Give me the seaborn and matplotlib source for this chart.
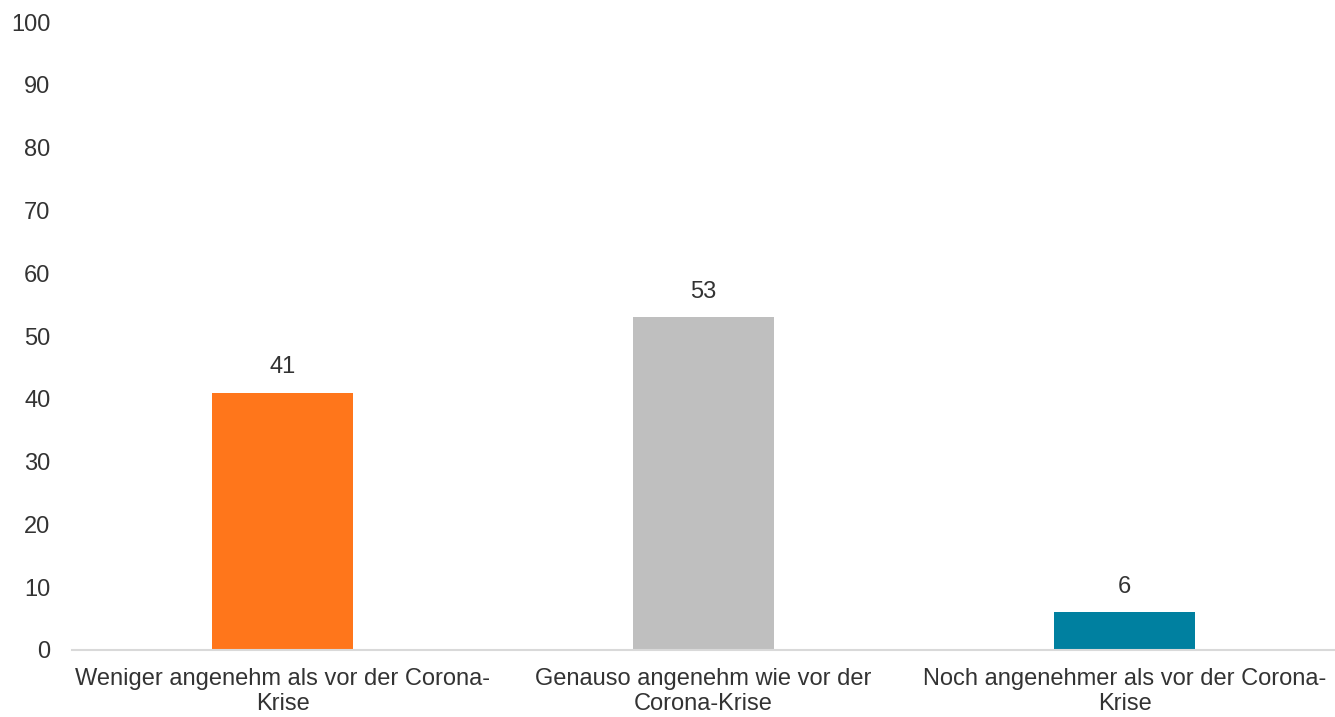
import matplotlib
matplotlib.use("Agg")
import matplotlib.pyplot as plt
import seaborn as sns
import pandas as pd

# Daten
kategorien = [
    "Weniger angenehm als vor der Corona-\nKrise",
    "Genauso angenehm wie vor der\nCorona-Krise",
    "Noch angenehmer als vor der Corona-\nKrise",
]
werte = [41, 53, 6]
farben = ["#FF761B", "#BFBFBF", "#0080A0"]
y_ticks = [0, 10, 20, 30, 40, 50, 60, 70, 80, 90, 100]

sns.set_style("white")
plt.rcParams["font.family"] = ["Liberation Sans", "DejaVu Sans"]

df = pd.DataFrame({"kategorie": kategorien, "wert": werte})

fig = plt.figure(figsize=(13.35, 7.17), dpi=100)
ax = fig.add_axes([72 / 1335, 67 / 717, 1263 / 1335, 628 / 717])

sns.barplot(data=df, x="kategorie", y="wert", hue="kategorie", palette=farben,
            width=0.333, saturation=1, legend=False, linewidth=0, ax=ax)

# Werte über den Balken
for i, v in enumerate(werte):
    ax.text(i, v + 2.3, str(v), ha="center", va="bottom", fontsize=17, color="#333333")

ax.set_ylim(0, 100)
ax.set_xlim(-0.5, 2.5)
ax.set_yticks(y_ticks)
ax.set_xlabel("")
ax.set_ylabel("")
ax.tick_params(axis="both", length=0, labelsize=17, labelcolor="#333333")
ax.tick_params(axis="y", pad=15.5)
ax.tick_params(axis="x", pad=13)
for lab in ax.get_xticklabels():
    lab.set_linespacing(1.2)

for side in ["top", "right", "left"]:
    ax.spines[side].set_visible(False)
ax.spines["bottom"].set_color("#D9D9D9")
ax.spines["bottom"].set_linewidth(1.5)

plt.savefig("out.png", dpi=100)
plt.close()
